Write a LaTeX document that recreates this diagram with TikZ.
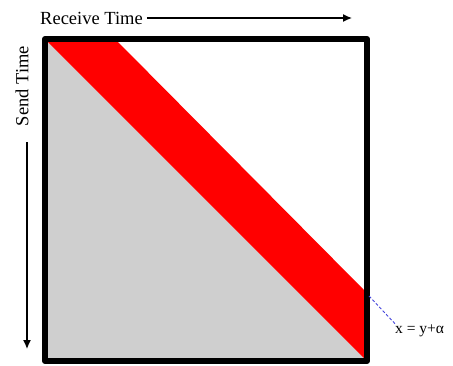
\documentclass[tikz,border=0pt]{standalone}
\usepackage{fontspec}
\setmainfont{Liberation Serif}
\usetikzlibrary{arrows.meta}
\begin{document}
\begin{tikzpicture}[x=1pt,y=-1pt,
  lbl/.style={inner sep=0pt, font=\fontsize{18.5}{22}\selectfont},
  axis/.style={line width=1.3pt, -{Latex[length=9pt,width=8pt]}},
  frame/.style={line width=6pt, line join=round},
  leader/.style={draw={rgb,255:red,70;green,70;blue,220}, line width=0.9pt, dash pattern=on 3pt off 2pt}]
\useasboundingbox (0,0) rectangle (453,365);
% fills
\fill[gray!38] (48,42) -- (48,358) -- (364,358) -- cycle;
\fill[red] (48,42) -- (118,42) -- (364,290) -- (364,358) -- cycle;
% frame
\draw[frame] (45,39) rectangle (367,361);
% labels
\node[lbl, anchor=west] (recv) at (40,18) {Receive Time};
\coordinate (recvend) at (352,18);
\draw[axis] ([xshift=4pt]recv.east) -- (recvend);
\node[lbl, rotate=90] (send) at (22,86) {Send Time};
\coordinate (sendstart) at (27,142);
\coordinate (sendend) at (27,349);
\draw[axis] (sendstart) -- (sendend);
\node[inner sep=0pt, anchor=west, font=\fontsize{15.5}{18}\selectfont] (eq) at (395,331) {x = y+α};
\coordinate (edgept) at (369,296);
\draw[leader] (edgept) -- ([xshift=1pt]eq.north west);
\end{tikzpicture}
\end{document}
